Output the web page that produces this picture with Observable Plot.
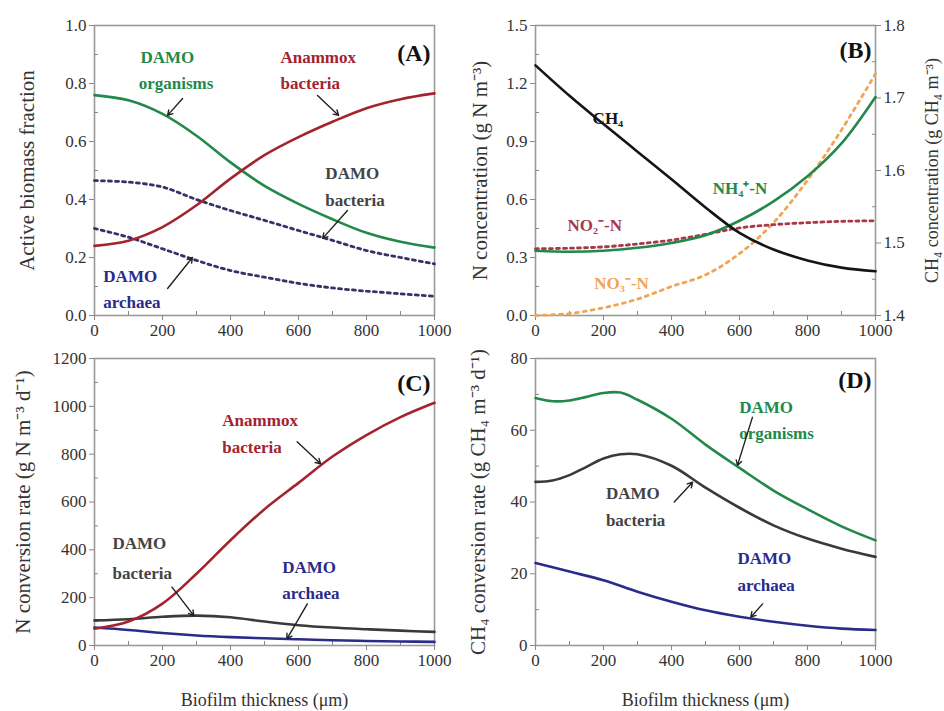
<!DOCTYPE html>
<html><head><meta charset="utf-8">
<script src="https://cdn.jsdelivr.net/npm/d3@7"></script>
<script src="https://cdn.jsdelivr.net/npm/@observablehq/plot@0.6"></script>
<style>
body{margin:0;background:#fff;}
#wrap{position:relative;width:944px;height:711px;overflow:hidden;font-family:"Liberation Serif",serif;}
#wrap > div{position:absolute;}
</style></head><body><div id="wrap"></div>
<script>
// ---------- data ----------
const thickness = [0,100,200,300,400,500,600,700,800,900,1000];
const thicknessFine = [0,50,100,150,200,250,300,400,500,600,700,800,900,1000];
const xTickLabels = [0,200,400,600,800,1000];
const xMinorTicks = [100,300,500,700,900];

// (A) active biomass fraction
const fracDamoOrganisms = [0.76,0.742,0.695,0.62,0.528,0.447,0.385,0.332,0.285,0.254,0.234];
const fracAnammox      = [0.24,0.258,0.305,0.38,0.472,0.553,0.615,0.668,0.715,0.746,0.766];
const fracDamoBacteria = [0.465,0.46,0.443,0.40,0.362,0.328,0.293,0.259,0.224,0.20,0.178];
const fracDamoArchaea  = [0.30,0.27,0.23,0.19,0.155,0.132,0.111,0.095,0.084,0.075,0.066];
const yTicksA = [0,0.2,0.4,0.6,0.8,1.0];
const yMinorA = [0.1,0.3,0.5,0.7,0.9];

// (B) concentrations
const concNH4 = [0.335,0.33,0.335,0.35,0.375,0.415,0.49,0.59,0.72,0.89,1.13];
const concNO2 = [0.345,0.348,0.355,0.37,0.39,0.42,0.453,0.47,0.48,0.487,0.49];
const concNO3 = [0.0,0.01,0.04,0.085,0.15,0.21,0.32,0.48,0.70,0.96,1.25];
const concCH4 = [1.745,1.703,1.664,1.626,1.588,1.549,1.514,1.491,1.476,1.466,1.461];
const yTicksB = [0,0.3,0.6,0.9,1.2,1.5];
const yMinorB = [0.15,0.45,0.75,1.05,1.35];
const yTicksBRight = [1.4,1.5,1.6,1.7,1.8];
const yMinorBRight = [1.45,1.55,1.65,1.75];

// (C) N conversion rate
const rateAnammox     = [70,100,175,300,440,570,680,790,880,955,1015];
const rateDamoBactN   = [105,110,120,125,118,100,85,75,68,62,57];
const rateDamoArchN   = [75,65,52,42,35,30,26,22,19,17,15];
const yTicksC = [0,200,400,600,800,1000,1200];
const yMinorC = [100,300,500,700,900,1100];

// (D) CH4 conversion rate
const rateDamoOrgCH4  = [69,68.1,68.3,69.3,70.4,70.5,68.5,63.2,56,49.5,43.2,38,33.2,29.3];
const rateDamoBactCH4 = [45.6,46,47.5,49.8,52.1,53.3,53.3,50.1,44,38.4,33.5,29.8,27,24.7];
const rateDamoArchCH4 = [23,20.6,18.2,15,12.2,9.8,8,6.6,5.5,4.7,4.3];
const yTicksD = [0,20,40,60,80];
const yMinorD = [10,30,50,70];

// ---------- annotations (data units) ----------
const labelsA = [
  {x:135,y:0.89,text:"DAMO",c:"green"},{x:130,y:0.80,text:"organisms",c:"green"},
  {x:547,y:0.89,text:"Anammox",c:"red"},{x:547,y:0.80,text:"bacteria",c:"red"},
  {x:679,y:0.49,text:"DAMO",c:"gray"},{x:679,y:0.397,text:"bacteria",c:"gray"},
  {x:26,y:0.134,text:"DAMO",c:"blue"},{x:26,y:0.045,text:"archaea",c:"blue"}
];
const arrowsA = [
  {x1:259,y1:0.748,x2:215,y2:0.69},{x1:656,y1:0.759,x2:718,y2:0.69},
  {x1:744,y1:0.362,x2:671,y2:0.266},{x1:215,y1:0.093,x2:288,y2:0.2}
];
const labelsB = [
  {x:168,y:1.02,text:"CH₄",c:"black"},
  {x:521,y:0.657,text:"NH₄⁺-N",c:"green"},
  {x:94,y:0.466,text:"NO₂⁻-N",c:"no2"},
  {x:173,y:0.166,text:"NO₃⁻-N",c:"orange"}
];
const labelsC = [
  {x:376,y:941,text:"Anammox",c:"red"},{x:376,y:828,text:"bacteria",c:"red"},
  {x:53,y:426,text:"DAMO",c:"gray"},{x:53,y:301,text:"bacteria",c:"gray"},
  {x:552,y:326,text:"DAMO",c:"blue"},{x:552,y:217,text:"archaea",c:"blue"}
];
const arrowsC = [
  {x1:596,y1:852,x2:665,y2:760},{x1:228,y1:244,x2:292,y2:125},{x1:626,y1:174,x2:566,y2:28}
];
const labelsD = [
  {x:599,y:66.3,text:"DAMO",c:"green"},{x:599,y:59.1,text:"organisms",c:"green"},
  {x:207,y:42.4,text:"DAMO",c:"gray"},{x:207,y:34.8,text:"bacteria",c:"gray"},
  {x:594,y:24.3,text:"DAMO",c:"blue"},{x:594,y:16.7,text:"archaea",c:"blue"}
];
const arrowsD = [
  {x1:638,y1:63.6,x2:594,y2:50.2},{x1:408,y1:40,x2:462,y2:45.5},{x1:668,y1:11.6,x2:633,y2:7.9}
];

// ---------- styles ----------
const COL = {green:"#23894a", red:"#a3242f", navy:"#33336a", blue:"#2b2b8a", black:"#151515",
  gray:"#444", dark:"#333", orange:"#f2a455", no2:"#a8384a"};
const FONT = "Liberation Serif";

function series(xs, ys){ return xs.map((x,i)=>({x, y: ys[i]})); }
function line(xs, ys, stroke, extra={}){
  return Plot.line(series(xs, ys), {x:"x", y:"y", stroke, strokeWidth:2.6, curve:"catmull-rom", ...extra});
}
function axes(yTicks, yMinor, yFmt){
  return [
    Plot.frame({stroke:"#9a9a9a", strokeWidth:1.6}),
    Plot.axisX({ticks:xTickLabels, tickSize:5, tickPadding:3, fontSize:17, fill:"#333", stroke:"#888", tickFormat:d3.format("d"), label:null}),
    Plot.axisX({ticks:xMinorTicks, tickSize:-4, tickFormat:()=>"", stroke:"#888", label:null}),
    Plot.axisY({ticks:yTicks, tickSize:5, tickPadding:3, fontSize:17, fill:"#333", stroke:"#888", tickFormat:yFmt, label:null}),
    Plot.axisY({ticks:yMinor, tickSize:-4, tickFormat:()=>"", stroke:"#888", label:null})
  ];
}
function labels(arr){
  return Plot.text(arr, {x:"x", y:"y", text:"text", fill:d=>COL[d.c], fontWeight:"bold", fontSize:17, textAnchor:"start", fontFamily:FONT});
}
function arrows(arr){
  return Plot.arrow(arr, {x1:"x1", y1:"y1", x2:"x2", y2:"y2", stroke:"#222", strokeWidth:1.4, headLength:6});
}
function letter(t, dy){
  return Plot.text([t], {frameAnchor:"top-right", dx:-4, dy, lineAnchor:"middle", fontWeight:"bold", fontSize:24, fill:"#111"});
}
function ytitle(t, dx, anchor="left", fontSize=21){
  return Plot.text([t], {frameAnchor:anchor, dx, rotate:-90, lineAnchor:"middle", textAnchor:"middle", fontSize, fill:"#333"});
}
function xtitle(t){
  return Plot.text([t], {frameAnchor:"bottom", dy:55, lineAnchor:"middle", fontSize:18, fill:"#333"});
}
function place(chart, left, top){
  const d = document.createElement("div");
  d.style.left = left+"px"; d.style.top = top+"px";
  d.appendChild(chart);
  document.getElementById("wrap").appendChild(d);
}
const base = {style:{fontFamily:FONT, background:"transparent", overflow:"visible"}, x:{domain:[0,1000]}};

// (A)
place(Plot.plot({...base, width:472, height:345, marginLeft:94, marginRight:38, marginTop:25, marginBottom:30,
  y:{domain:[0,1]},
  marks:[
    ...axes(yTicksA, yMinorA, d3.format(".1f")),
    line(thickness, fracDamoBacteria, COL.navy, {strokeDasharray:"3,4", strokeWidth:2.8}),
    line(thickness, fracDamoArchaea, COL.navy, {strokeDasharray:"3,4", strokeWidth:2.8}),
    line(thickness, fracDamoOrganisms, COL.green),
    line(thickness, fracAnammox, COL.red),
    labels(labelsA), arrows(arrowsA),
    letter("(A)", 28),
    ytitle("Active biomass fraction", -67)
  ]}), 0, 0);

// (B) — CH4 drawn on the right axis (1.4–1.8) mapped onto the left scale (0–1.5)
const toLeft = v => (v - 1.4) / 0.4 * 1.5;
const fromLeft = v => 1.4 + v / 1.5 * 0.4;
place(Plot.plot({...base, width:472, height:345, marginLeft:63, marginRight:69, marginTop:25, marginBottom:30,
  y:{domain:[0,1.5]},
  marks:[
    ...axes(yTicksB, yMinorB, d3.format(".1f")),
    Plot.axisY({anchor:"right", ticks:yTicksBRight.map(toLeft), tickSize:5, tickPadding:3, fontSize:17, fill:"#333", stroke:"#888", tickFormat:d=>fromLeft(d).toFixed(1), label:null}),
    Plot.axisY({anchor:"right", ticks:yMinorBRight.map(toLeft), tickSize:-4, tickFormat:()=>"", stroke:"#888", label:null}),
    line(thickness, concNO3, COL.orange, {strokeDasharray:"3,5", strokeWidth:2.8}),
    line(thickness, concNO2, COL.no2, {strokeDasharray:"3,4", strokeWidth:2.8}),
    line(thickness, concNH4, COL.green),
    Plot.line(series(thickness, concCH4), {x:"x", y:d=>toLeft(d.y), stroke:COL.black, strokeWidth:2.6, curve:"catmull-rom"}),
    labels(labelsB),
    letter("(B)", 25),
    ytitle("N concentration (g N m⁻³)", -55),
    ytitle("CH₄ concentration (g CH₄ m⁻³)", 57, "right", 18)
  ]}), 472, 0);

// (C)
place(Plot.plot({...base, width:472, height:366, marginLeft:94, marginRight:38, marginTop:13, marginBottom:66,
  y:{domain:[0,1200]},
  marks:[
    ...axes(yTicksC, yMinorC, d3.format("d")),
    line(thickness, rateDamoArchN, COL.blue),
    line(thickness, rateDamoBactN, "#3a3a3a"),
    line(thickness, rateAnammox, COL.red),
    labels(labelsC), arrows(arrowsC),
    letter("(C)", 25),
    ytitle("N conversion rate (g N m⁻³ d⁻¹)", -71),
    xtitle("Biofilm thickness (μm)")
  ]}), 0, 345);

// (D)
place(Plot.plot({...base, width:472, height:366, marginLeft:63, marginRight:69, marginTop:13, marginBottom:66,
  y:{domain:[0,80]},
  marks:[
    ...axes(yTicksD, yMinorD, d3.format("d")),
    line(thickness, rateDamoArchCH4, COL.blue),
    line(thicknessFine, rateDamoBactCH4, "#3a3a3a"),
    line(thicknessFine, rateDamoOrgCH4, COL.green),
    labels(labelsD), arrows(arrowsD),
    letter("(D)", 22),
    ytitle("CH₄ conversion rate (g CH₄ m⁻³ d⁻¹)", -57),
    xtitle("Biofilm thickness (μm)")
  ]}), 472, 345);
</script></body></html>
